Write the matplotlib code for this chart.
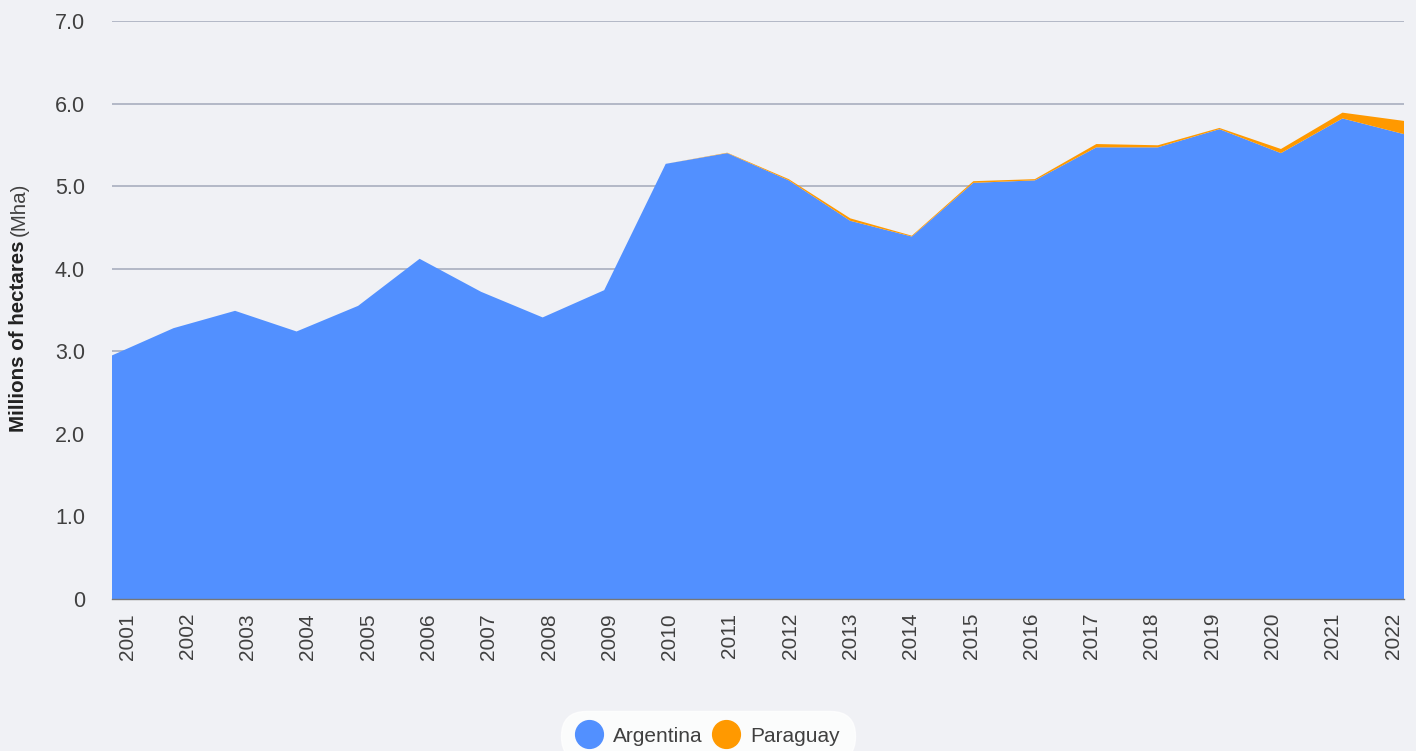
import matplotlib.pyplot as plt
import numpy as np
from matplotlib.lines import Line2D

years = np.arange(2001, 2023)
argentina = [2.95, 3.28, 3.49, 3.24, 3.55, 4.12, 3.72, 3.41, 3.74, 5.27,
             5.40, 5.07, 4.58, 4.39, 5.04, 5.07, 5.47, 5.47, 5.69, 5.40,
             5.82, 5.63]
paraguay = [0.0, 0.0, 0.0, 0.0, 0.0, 0.0, 0.0, 0.0, 0.0, 0.0,
            0.005, 0.015, 0.03, 0.01, 0.02, 0.015, 0.04, 0.025, 0.015, 0.05,
            0.07, 0.16]
y_ticks = [0, 1, 2, 3, 4, 5, 6, 7]
y_tick_labels = ["0", "1.0", "2.0", "3.0", "4.0", "5.0", "6.0", "7.0"]

BG = "#f0f1f5"
BLUE = "#5290ff"
ORANGE = "#ff9900"
TEXT = "#404040"

plt.rcParams["font.family"] = ["Liberation Sans", "DejaVu Sans"]

fig = plt.figure(figsize=(14.16, 7.51), dpi=100, facecolor=BG)
ax = fig.add_axes([112 / 1416, 1 - 599 / 751, (1404 - 112) / 1416, (599 - 21) / 751])
ax.set_facecolor(BG)

ax.stackplot(years, argentina, paraguay, colors=[BLUE, ORANGE], linewidth=0, zorder=2)

ax.set_xlim(years[0], years[-1])
ax.set_ylim(0, 7)
ax.set_yticks(y_ticks)
ax.set_yticklabels(y_tick_labels)
ax.yaxis.grid(True, color="#a3a9ba", linewidth=1.1, zorder=1)
ax.set_axisbelow(True)

# category labels sit on a slightly narrower band than the data points
label_pos = years[0] + 0.244 + (years - years[0]) * 0.98
ax.set_xticks(label_pos)
ax.set_xticklabels([str(y) for y in years], rotation=90, va="top")

ax.tick_params(axis="x", length=0, pad=10, labelsize=15, labelcolor=TEXT)
ax.tick_params(axis="y", length=0, pad=19.5, labelsize=15.5, labelcolor=TEXT)
for s in ["top", "right", "left"]:
    ax.spines[s].set_visible(False)
ax.spines["bottom"].set_color("#777777")
ax.spines["bottom"].set_linewidth(1.0)
ax.spines["bottom"].set_zorder(3)

# y label: bold part + normal part
fig.text(19 / 1416, 1 - 241 / 751, "Millions of hectares", rotation=90, rotation_mode="anchor",
         ha="right", va="center", fontsize=14.8, fontweight="bold", color="#222222")
fig.text(19 / 1416, 1 - 236 / 751, "(Mha)", rotation=90, rotation_mode="anchor",
         ha="left", va="center", fontsize=14.8, color=TEXT)

handles = [
    Line2D([], [], marker="o", linestyle="none", markersize=20, markerfacecolor=BLUE,
           markeredgecolor=BLUE, label="Argentina"),
    Line2D([], [], marker="o", linestyle="none", markersize=20, markerfacecolor=ORANGE,
           markeredgecolor=ORANGE, label="Paraguay"),
]
leg = fig.legend(handles=handles, loc="center", bbox_to_anchor=(708 / 1416, 1 - 736 / 751),
                 ncol=2, frameon=True, fontsize=15, handletextpad=0.55, columnspacing=0.55,
                 borderpad=0.55, handlelength=1.2, labelcolor=TEXT)
frame = leg.get_frame()
frame.set_facecolor("white")
frame.set_edgecolor("white")
frame.set_boxstyle("round,pad=0.2,rounding_size=1.2")

fig.savefig("out.png", dpi=100, facecolor=BG)
